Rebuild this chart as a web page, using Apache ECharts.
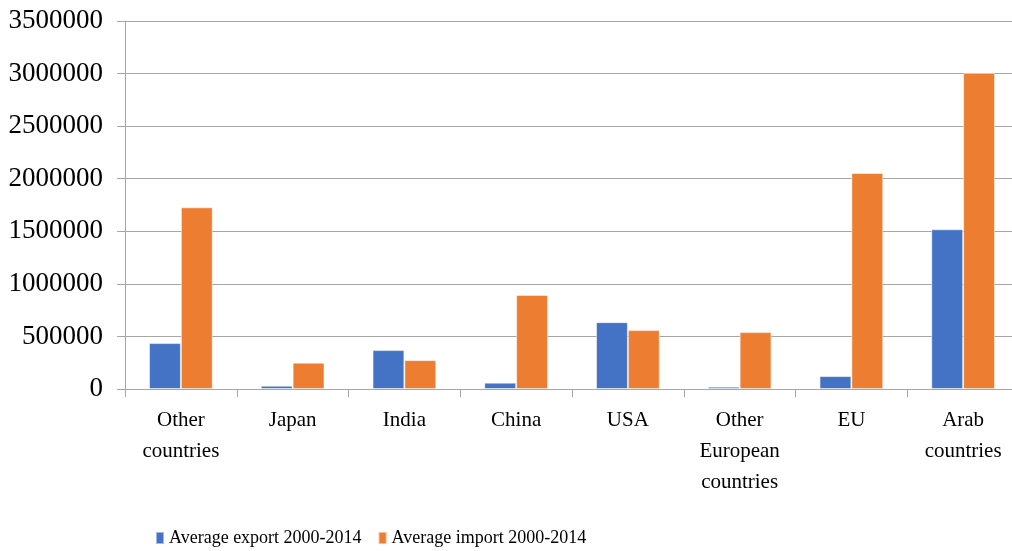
<!DOCTYPE html>
<html>
<head>
<meta charset="utf-8">
<script src="https://cdn.jsdelivr.net/npm/echarts@6/dist/echarts.min.js"></script>
<style>
  html, body { margin: 0; padding: 0; background: #fff; }
  #chart { width: 1012px; height: 551px; }
</style>
</head>
<body>
<div id="chart"></div>
<script>
// categories along the x axis
const categories = ['Other\ncountries', 'Japan', 'India', 'China', 'USA', 'Other\nEuropean\ncountries', 'EU', 'Arab\ncountries']

// values
const exportAvg = [437000, 31000, 370000, 60000, 636000, 22000, 123000, 1519000]
const importAvg = [1728000, 250000, 275000, 895000, 560000, 541000, 2054000, 3006000]

const seriesNames = ['Average export 2000-2014', 'Average import 2000-2014']

const font = '"Liberation Serif", "Times New Roman", serif'
const gridColor = '#a6a6a6'

const chart = echarts.init(document.getElementById('chart'))
chart.setOption({
  animation: false,
  legend: {
    data: seriesNames,
    left: 150,
    top: 524,
    icon: 'rect',
    itemWidth: 8,
    itemHeight: 12,
    itemGap: 16,
    textStyle: { fontFamily: font, fontSize: 18, color: '#000' },
  },
  grid: { left: 125, right: -7, top: 21, bottom: 162, outerBoundsMode: 'none', containLabel: false },
  xAxis: {
    type: 'category',
    data: categories,
    axisLine: { lineStyle: { color: gridColor, width: 1 } },
    axisTick: { show: true, length: 8, alignWithLabel: false, lineStyle: { color: gridColor } },
    axisLabel: {
      fontFamily: font,
      fontSize: 21,
      color: '#000',
      lineHeight: 31,
      margin: 16,
      interval: 0,
    },
  },
  yAxis: {
    type: 'value',
    min: 0,
    max: 3500000,
    interval: 500000,
    axisLine: { show: true, lineStyle: { color: gridColor, width: 1 } },
    axisTick: { show: true, length: 8, lineStyle: { color: gridColor } },
    splitLine: { lineStyle: { color: gridColor, width: 1 } },
    axisLabel: { fontFamily: font, fontSize: 27, color: '#000', margin: 22, formatter: (v) => String(v) },
  },
  series: [
    {
      name: seriesNames[0],
      type: 'bar',
      data: exportAvg,
      barGap: '0%',
      barCategoryGap: '43%',
      itemStyle: { color: '#4472c4', borderColor: 'rgba(255,255,255,0.5)', borderWidth: 1 },
    },
    {
      name: seriesNames[1],
      type: 'bar',
      data: importAvg,
      itemStyle: { color: '#ed7d31', borderColor: 'rgba(255,255,255,0.5)', borderWidth: 1 },
    },
  ],
})
</script>
</body>
</html>
